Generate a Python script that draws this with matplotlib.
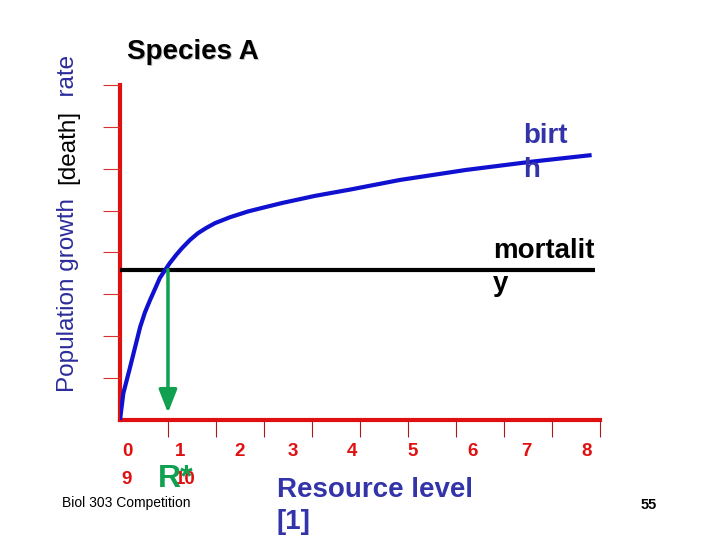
import matplotlib.pyplot as plt

plt.rcParams['font.family'] = ['Liberation Sans', 'DejaVu Sans']

# birth curve (resource level vs rate)
birth_x = [0.0, 0.07, 0.21, 0.42, 0.52, 0.625, 0.73, 0.83, 0.94, 1.04, 1.17, 1.29, 1.46,
           1.625, 1.79, 1.98, 2.29, 2.67, 3.02, 3.375, 4.06, 4.79, 5.83, 7.21, 8.60, 9.79]
birth_y = [0.0, 0.64, 1.26, 2.22, 2.57, 2.86, 3.13, 3.39, 3.58, 3.75, 3.94, 4.10, 4.30,
           4.46, 4.58, 4.70, 4.84, 4.98, 5.08, 5.18, 5.35, 5.50, 5.73, 5.97, 6.17, 6.32]

# mortality line
mort_x = [0.0, 9.9]
mort_y = [3.59, 3.59]

# R* arrow
r_star = 1.0
arrow_top = 3.59
arrow_tip = 0.17

tick_labels = ['0', '1', '2', '3', '4', '5', '6', '7', '8', '9', '10']
label_px = [127, 180, 240, 293, 352, 413, 473, 526, 587, 127, 185]
label_py = [452, 452, 452, 452, 452, 452, 452, 452, 452, 480, 480]

W, H = 720, 540
fig = plt.figure(figsize=(7.2, 5.4), dpi=100)
ax = fig.add_axes([120 / W, 1 - 420 / H, 494 / W, 356 / H])
ax.set_xlim(0, 10.3)
ax.set_ylim(0, 8.5)

red = '#e01010'
for s in ['top', 'right']:
    ax.spines[s].set_visible(False)
for s in ['left', 'bottom']:
    ax.spines[s].set_color(red)
    ax.spines[s].set_linewidth(3)
    ax.spines[s].set_zorder(1)
ax.spines['left'].set_bounds(0, 8)
ax.spines['bottom'].set_bounds(0, 10)

ax.set_xticks(range(1, 11))
ax.set_yticks(range(1, 9))
ax.set_xticklabels([])
ax.set_yticklabels([])
ax.tick_params(axis='x', direction='out', length=12.5, width=0.8, color='#b01818')
ax.tick_params(axis='y', direction='out', length=12.5, width=0.8, color='#d83030')

ax.plot(mort_x, mort_y, color='black', lw=3, solid_capstyle='butt', zorder=3)
ax.plot(birth_x, birth_y, color='#1010d0', lw=3, zorder=4)
ax.annotate('', xy=(r_star, arrow_tip), xytext=(r_star, arrow_top),
            arrowprops=dict(arrowstyle='-|>,head_length=1.4,head_width=0.55',
                            color='#10a050', lw=2.5, shrinkA=0, shrinkB=0),
            zorder=5)


def px(x, y):
    return x / W, 1 - y / H


for lab, x, y in zip(tick_labels, label_px, label_py):
    fig.text(*px(x, y), lab, color=red, fontsize=13.5, fontweight='bold',
             ha='center', va='center')

fig.text(*px(158, 479), 'R*', color='#10a050', fontsize=23, fontweight='bold',
         ha='left', va='center')

# title with light shadow
fig.text(*px(128.5, 53.5), 'Species A', color='#c0c0c0', fontsize=20, fontweight='bold',
         ha='left', va='center')
fig.text(*px(127, 52), 'Species A', color='black', fontsize=20, fontweight='bold',
         ha='left', va='center')

# y label in three colours, stacked upwards from the bottom
renderer = fig.canvas.get_renderer()
ylab_parts = [('Population growth  ', '#2b2b9a'), ('[death]', 'black'), ('  rate', '#2b2b9a')]
y_cur = 392
for part, col in ylab_parts:
    t = fig.text(*px(68, y_cur), part, color=col, fontsize=17.5, rotation=90,
                 ha='center', va='bottom')
    bb = t.get_window_extent(renderer)
    y_cur -= bb.height

fig.text(*px(523, 153), 'birt\nh', color='#3333aa', fontsize=20, fontweight='bold',
         ha='left', va='center', linespacing=1.36)
fig.text(*px(493, 267.5), 'mortalit\ny', color='black', fontsize=20, fontweight='bold',
         ha='left', va='center', linespacing=1.36)
fig.text(*px(277, 506), 'Resource level\n[1]', color='#3333aa', fontsize=20,
         fontweight='bold', ha='left', va='center', linespacing=1.28)

fig.text(*px(62, 503), 'Biol 303 Competition', color='black', fontsize=10,
         ha='left', va='center')
fig.text(*px(641, 505), '55', color='black', fontsize=10.5, fontweight='bold',
         ha='left', va='center')

fig.savefig('out.png', dpi=100)
